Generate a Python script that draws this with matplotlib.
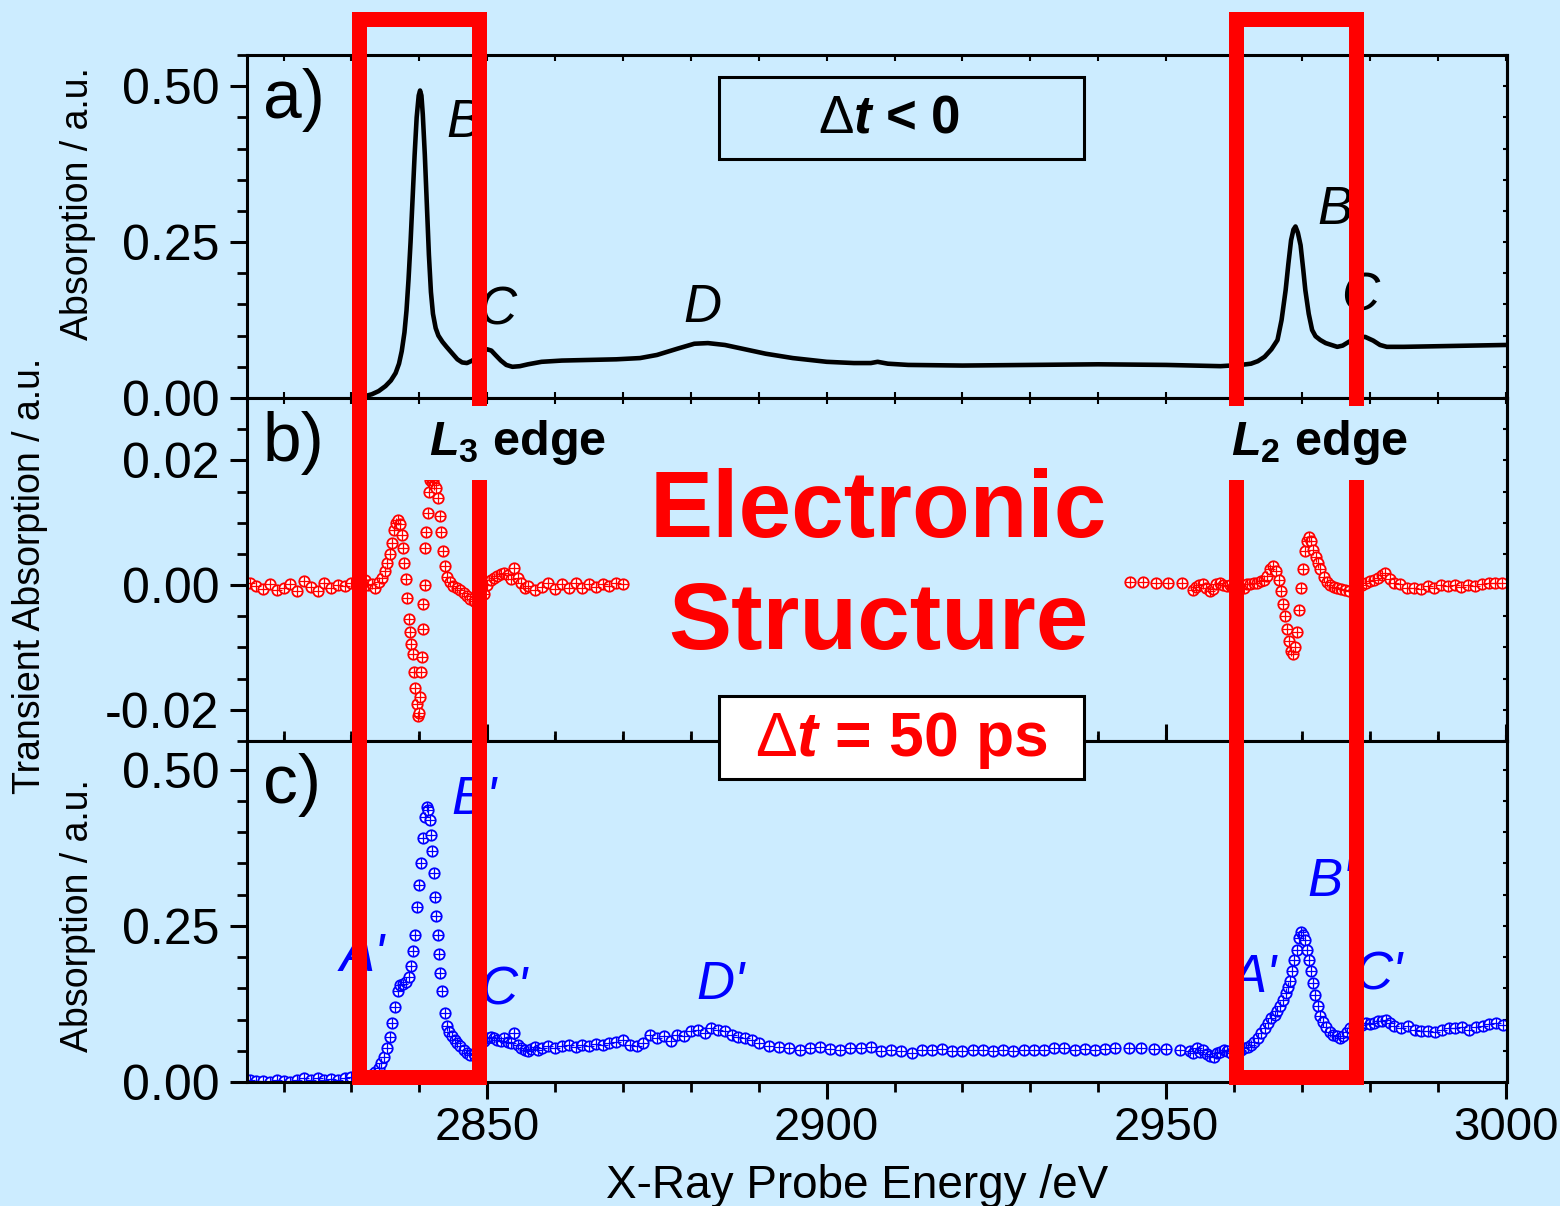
import matplotlib
matplotlib.use("Agg")
import matplotlib.pyplot as plt
from matplotlib.patches import Rectangle
from matplotlib.ticker import MultipleLocator
from matplotlib.transforms import blended_transform_factory

plt.rcParams['font.family'] = ['Liberation Sans', 'DejaVu Sans']
plt.rcParams['axes.unicode_minus'] = False
plt.rcParams['mathtext.fontset'] = 'custom'
plt.rcParams['mathtext.rm'] = 'Liberation Sans'
plt.rcParams['mathtext.it'] = 'Liberation Sans:italic:bold'
plt.rcParams['mathtext.bf'] = 'Liberation Sans:bold'

BG = '#CCECFF'

# a) ground state spectrum (dt < 0)
gs_energy = [2832.0, 2833.0, 2834.0, 2835.0, 2835.8, 2836.5, 2837.0, 2837.4, 2837.8, 2838.1,
             2838.4, 2838.7, 2839.0, 2839.3, 2839.6, 2839.9, 2840.1, 2840.3, 2840.5, 2840.8,
             2841.1, 2841.4, 2841.7, 2842.0, 2842.4, 2842.8, 2843.4, 2844.0, 2844.8, 2845.6,
             2846.3, 2847.0, 2847.8, 2848.5, 2849.3, 2850.0, 2850.6, 2851.2, 2852.0, 2852.8,
             2853.7, 2854.8, 2856.0, 2858.0, 2861.0, 2865.0, 2869.0, 2872.5, 2875.0, 2878.0,
             2880.5, 2882.5, 2885.0, 2888.0, 2891.0, 2895.0, 2900.0, 2904.0, 2906.5, 2907.5,
             2909.0, 2912.0, 2920.0, 2930.0, 2940.0, 2950.0, 2958.0, 2961.0, 2962.5, 2963.5,
             2964.5, 2965.5, 2966.4, 2967.0, 2967.6, 2968.0, 2968.4, 2968.75, 2969.05, 2969.4,
             2969.8, 2970.2, 2970.5, 2971.0, 2971.5, 2972.0, 2972.7, 2973.5, 2975.2, 2976.0,
             2976.9, 2978.0, 2979.3, 2980.5, 2981.5, 2982.5, 2985.0, 2990.0, 3000.0]
gs_abs = [0.003, 0.006, 0.011, 0.019, 0.028, 0.040, 0.055, 0.075, 0.105, 0.140,
          0.190, 0.250, 0.320, 0.390, 0.450, 0.485, 0.493, 0.485, 0.455, 0.390,
          0.310, 0.230, 0.170, 0.135, 0.112, 0.100, 0.090, 0.082, 0.072, 0.062,
          0.057, 0.056, 0.060, 0.066, 0.074, 0.078, 0.076, 0.069, 0.060, 0.053,
          0.050, 0.051, 0.054, 0.058, 0.060, 0.061, 0.062, 0.064, 0.069, 0.079,
          0.087, 0.088, 0.085, 0.078, 0.071, 0.064, 0.058, 0.056, 0.056, 0.058,
          0.055, 0.053, 0.052, 0.053, 0.054, 0.053, 0.051, 0.053, 0.055, 0.059,
          0.066, 0.078, 0.093, 0.125, 0.173, 0.215, 0.253, 0.270, 0.275, 0.265,
          0.245, 0.205, 0.173, 0.135, 0.109, 0.099, 0.093, 0.088, 0.082, 0.084,
          0.090, 0.096, 0.098, 0.092, 0.085, 0.082, 0.082, 0.083, 0.085]

# b) transient (50 ps minus ground state), L3 part
l3_energy = [2815.0, 2816.0, 2817.0, 2818.0, 2819.0, 2820.0, 2821.0, 2822.0, 2823.0, 2824.0,
             2825.0, 2826.0, 2827.0, 2828.0, 2829.0, 2830.0, 2831.0, 2832.0, 2832.5, 2833.0,
             2833.5, 2834.0, 2834.5, 2835.0, 2835.3, 2835.6, 2835.9, 2836.2, 2836.5, 2836.8,
             2837.1, 2837.4, 2837.6, 2837.8, 2838.0, 2838.2, 2838.4, 2838.6, 2838.8, 2839.0,
             2839.2, 2839.4, 2839.6, 2839.8, 2839.9, 2840.1, 2840.3, 2840.4, 2840.5, 2840.6,
             2840.8, 2840.9, 2841.0, 2841.2, 2841.4, 2841.6, 2841.8, 2842.0, 2842.2, 2842.5,
             2842.8, 2843.0, 2843.2, 2843.5, 2843.8, 2844.1, 2844.5, 2845.0, 2845.5, 2846.0,
             2846.5, 2847.0, 2847.5, 2848.0, 2848.5, 2849.0, 2849.5, 2850.0, 2850.5, 2851.0,
             2851.5, 2852.0, 2852.5, 2853.0, 2853.5, 2854.0, 2854.5, 2855.0, 2855.5, 2856.0,
             2857.0, 2858.0, 2859.0, 2860.0, 2861.0, 2862.0, 2863.0, 2864.0, 2865.0, 2866.0,
             2867.0, 2868.0, 2869.0, 2870.0]
l3_diff = [0.0003, -0.0002, -0.0006, 0.0001, -0.0008, -0.0004, 0.0002, -0.0009, 0.0006, -0.0003,
           -0.0010, 0.0004, -0.0005, 0.0000, -0.0002, 0.0003, -0.0004, 0.0008, 0.0000, 0.0002,
           -0.0004, 0.0005, 0.0012, 0.0022, 0.0035, 0.0050, 0.0068, 0.0088, 0.0100, 0.0105,
           0.0098, 0.0080, 0.0060, 0.0035, 0.0010, -0.0020, -0.0055, -0.0075, -0.0095, -0.0110,
           -0.0140, -0.0165, -0.0190, -0.0210, -0.0205, -0.0180, -0.0140, -0.0115, -0.0070, -0.0030,
           0.0000, 0.0060, 0.0085, 0.0115, 0.0150, 0.0168, 0.0165, 0.0168, 0.0160, 0.0155,
           0.0140, 0.0110, 0.0085, 0.0055, 0.0030, 0.0013, 0.0005, -0.0002, -0.0004, -0.0008,
           -0.0012, -0.0018, -0.0022, -0.0026, -0.0030, -0.0028, -0.0015, 0.0000, 0.0008, 0.0012,
           0.0015, 0.0018, 0.0020, 0.0016, 0.0010, 0.0028, 0.0012, 0.0003, -0.0005, -0.0002,
           -0.0008, -0.0003, 0.0004, -0.0006, 0.0002, -0.0004, 0.0003, -0.0005, 0.0001, -0.0003,
           0.0002, -0.0001, 0.0004, 0.0002]

# b) L2 part
l2_energy = [2944.7, 2946.6, 2948.5, 2950.3, 2952.4, 2953.9, 2954.4, 2954.9, 2955.4, 2955.9,
             2956.4, 2956.9, 2957.4, 2957.9, 2958.4, 2958.9, 2959.4, 2959.9, 2960.4, 2960.9,
             2961.4, 2961.9, 2962.4, 2962.9, 2963.4, 2963.9, 2964.4, 2964.9, 2965.3, 2965.8,
             2966.2, 2966.6, 2966.9, 2967.2, 2967.5, 2967.8, 2968.1, 2968.4, 2968.7, 2969.0,
             2969.3, 2969.6, 2969.9, 2970.1, 2970.4, 2970.7, 2971.0, 2971.3, 2971.7, 2972.0,
             2972.3, 2972.7, 2973.2, 2973.7, 2974.2, 2974.7, 2975.2, 2975.8, 2976.4, 2977.0,
             2977.6, 2978.2, 2978.8, 2979.4, 2980.0, 2980.6, 2981.2, 2981.8, 2982.3, 2983.0,
             2983.5, 2984.5, 2985.5, 2986.5, 2987.5, 2988.5, 2989.5, 2990.5, 2991.5, 2992.5,
             2993.5, 2994.5, 2995.5, 2996.5, 2997.5, 2998.5, 2999.5]
l2_diff = [0.0005, 0.0005, 0.0004, 0.0004, 0.0003, -0.0008, -0.0003, 0.0000, 0.0002, -0.0004,
           -0.0010, -0.0006, 0.0002, 0.0004, 0.0000, -0.0002, 0.0000, -0.0003, -0.0001, 0.0000,
           -0.0004, 0.0002, 0.0001, 0.0004, 0.0003, 0.0006, 0.0008, 0.0015, 0.0025, 0.0030,
           0.0022, 0.0008, -0.0010, -0.0030, -0.0050, -0.0070, -0.0090, -0.0105, -0.0110, -0.0100,
           -0.0075, -0.0040, -0.0005, 0.0025, 0.0055, 0.0070, 0.0077, 0.0070, 0.0056, 0.0045,
           0.0035, 0.0025, 0.0013, 0.0005, 0.0000, -0.0003, -0.0005, -0.0007, -0.0008, -0.0010,
           -0.0008, -0.0004, 0.0000, 0.0003, 0.0006, 0.0008, 0.0012, 0.0016, 0.0019, 0.0010,
           0.0003, 0.0002, -0.0004, -0.0005, -0.0006, -0.0002, -0.0004, 0.0000, -0.0002, 0.0000,
           -0.0003, 0.0000, -0.0002, 0.0002, 0.0004, 0.0003, 0.0004]

# c) excited state spectrum at 50 ps
es_energy = [2815.0, 2816.0, 2817.0, 2818.0, 2819.0, 2820.0, 2821.0, 2822.0, 2823.0, 2824.0,
             2825.0, 2826.0, 2827.0, 2828.0, 2829.0, 2830.0, 2830.8, 2831.5, 2832.2, 2832.8,
             2833.4, 2834.0, 2834.4, 2834.8, 2835.2, 2835.6, 2836.0, 2836.4, 2836.8, 2837.2,
             2837.6, 2838.0, 2838.4, 2838.8, 2839.1, 2839.4, 2839.7, 2840.0, 2840.3, 2840.6,
             2840.9, 2841.1, 2841.3, 2841.5, 2841.7, 2841.9, 2842.1, 2842.3, 2842.5, 2842.7,
             2842.9, 2843.1, 2843.4, 2843.7, 2844.0, 2844.4, 2844.8, 2845.2, 2845.6, 2846.0,
             2846.5, 2847.0, 2847.5, 2848.0, 2848.5, 2849.0, 2849.5, 2850.0, 2850.5, 2851.0,
             2851.5, 2852.0, 2852.5, 2853.0, 2853.5, 2854.0, 2854.5, 2855.0, 2855.5, 2856.0,
             2856.5, 2857.0, 2857.5, 2858.0, 2859.0, 2860.0, 2861.0, 2862.0, 2863.0, 2864.0,
             2865.0, 2866.0, 2867.0, 2868.0, 2869.0, 2870.0, 2871.0, 2872.0, 2873.0, 2874.0,
             2875.0, 2876.0, 2877.0, 2878.0, 2879.0, 2880.0, 2881.0, 2882.0, 2883.0, 2884.0,
             2885.0, 2886.0, 2887.0, 2888.0, 2889.0, 2890.0, 2891.5, 2893.0, 2894.5, 2896.0,
             2897.5, 2899.0, 2900.5, 2902.0, 2903.5, 2905.0, 2906.5, 2908.0, 2909.5, 2911.0,
             2912.5, 2914.0, 2915.5, 2917.0, 2918.5, 2920.0, 2921.5, 2923.0, 2924.5, 2926.0,
             2927.5, 2929.0, 2930.5, 2932.0, 2933.5, 2935.0, 2936.5, 2938.0, 2939.5, 2941.0,
             2942.5, 2944.5, 2946.3, 2948.2, 2950.0, 2952.0, 2953.5, 2954.0, 2954.5, 2955.0,
             2955.5, 2956.0, 2956.5, 2957.0, 2957.5, 2958.0, 2958.5, 2959.0, 2959.5, 2960.0,
             2960.5, 2961.0, 2961.5, 2962.0, 2962.5, 2963.0, 2963.5, 2964.0, 2964.5, 2965.0,
             2965.5, 2966.0, 2966.4, 2966.8, 2967.2, 2967.6, 2968.0, 2968.3, 2968.6, 2968.9,
             2969.2, 2969.5, 2969.8, 2970.1, 2970.4, 2970.7, 2971.0, 2971.3, 2971.6, 2971.9,
             2972.3, 2972.7, 2973.1, 2973.6, 2974.1, 2974.6, 2975.1, 2975.6, 2976.1, 2976.6,
             2977.1, 2977.6, 2978.2, 2978.8, 2979.4, 2980.0, 2980.6, 2981.2, 2981.8, 2982.4,
             2983.0, 2983.6, 2984.6, 2985.6, 2986.6, 2987.6, 2988.6, 2989.6, 2990.6, 2991.6,
             2992.6, 2993.6, 2994.6, 2995.6, 2996.6, 2997.6, 2998.6, 2999.6]
es_abs = [0.003, 0.001, 0.002, 0.000, 0.003, 0.002, 0.000, 0.004, 0.006, 0.004,
          0.006, 0.003, 0.005, 0.004, 0.006, 0.008, 0.010, 0.007, 0.009, 0.012,
          0.016, 0.022, 0.030, 0.040, 0.054, 0.072, 0.095, 0.120, 0.145, 0.155,
          0.157, 0.160, 0.168, 0.185, 0.210, 0.235, 0.280, 0.315, 0.350, 0.390,
          0.425, 0.440, 0.435, 0.420, 0.395, 0.370, 0.335, 0.296, 0.265, 0.235,
          0.205, 0.175, 0.145, 0.110, 0.090, 0.080, 0.074, 0.068, 0.062, 0.057,
          0.052, 0.047, 0.043, 0.045, 0.052, 0.060, 0.066, 0.070, 0.072, 0.071,
          0.068, 0.066, 0.070, 0.064, 0.062, 0.078, 0.060, 0.055, 0.052, 0.049,
          0.053, 0.056, 0.052, 0.055, 0.058, 0.054, 0.057, 0.059, 0.056, 0.060,
          0.058, 0.061, 0.059, 0.062, 0.064, 0.067, 0.060, 0.058, 0.062, 0.075,
          0.070, 0.073, 0.066, 0.076, 0.074, 0.082, 0.084, 0.078, 0.086, 0.084,
          0.082, 0.076, 0.072, 0.070, 0.068, 0.062, 0.058, 0.056, 0.055, 0.052,
          0.055, 0.056, 0.053, 0.052, 0.055, 0.054, 0.056, 0.050, 0.052, 0.050,
          0.046, 0.051, 0.052, 0.053, 0.050, 0.050, 0.051, 0.051, 0.050, 0.051,
          0.050, 0.051, 0.052, 0.051, 0.054, 0.055, 0.052, 0.053, 0.051, 0.053,
          0.054, 0.054, 0.054, 0.053, 0.053, 0.052, 0.050, 0.046, 0.054, 0.048,
          0.052, 0.045, 0.042, 0.040, 0.046, 0.048, 0.052, 0.050, 0.047, 0.049,
          0.050, 0.052, 0.054, 0.056, 0.060, 0.064, 0.070, 0.078, 0.086, 0.095,
          0.102, 0.108, 0.114, 0.122, 0.132, 0.143, 0.152, 0.162, 0.178, 0.195,
          0.212, 0.230, 0.240, 0.236, 0.228, 0.212, 0.195, 0.178, 0.158, 0.140,
          0.122, 0.106, 0.096, 0.088, 0.080, 0.076, 0.073, 0.071, 0.074, 0.080,
          0.086, 0.089, 0.090, 0.092, 0.094, 0.093, 0.095, 0.097, 0.098, 0.100,
          0.094, 0.090, 0.087, 0.089, 0.083, 0.081, 0.082, 0.080, 0.083, 0.086,
          0.087, 0.088, 0.084, 0.088, 0.090, 0.093, 0.094, 0.092]

# highlighted energy windows (L3 and L2 edges)
windows = [(2831.1, 2848.75), (2960.3, 2978.0)]

fig = plt.figure(figsize=(15.6, 12.06), dpi=100, facecolor=BG)
L, W = 0.1583, 0.8077
axa = fig.add_axes([L, 0.6700, W, 0.2844])
axb = fig.add_axes([L, 0.3856, W, 0.2844])
axc = fig.add_axes([L, 0.1028, W, 0.2828])

for ax in (axa, axb, axc):
    ax.set_facecolor(BG)
    ax.set_xlim(2814.6, 3000.2)
    ax.xaxis.set_major_locator(MultipleLocator(50))
    ax.xaxis.set_minor_locator(MultipleLocator(10))
    for s in ax.spines.values():
        s.set_linewidth(2.2)
    ax.tick_params(axis='y', which='major', direction='out', length=12, width=2.2,
                   labelsize=36, pad=8)
    ax.tick_params(axis='y', which='minor', direction='out', length=7, width=2.0)
    ax.tick_params(axis='x', which='both', direction='in', length=4, width=1.5, top=True)

axa.tick_params(axis='x', labelbottom=False)
axb.tick_params(axis='x', labelbottom=False)
axc.tick_params(axis='x', which='major', direction='out', length=12, width=2.2,
                labelsize=34, pad=5)
axc.tick_params(axis='x', which='minor', direction='out', length=7, width=2.0)

# panel a
axa.plot(gs_energy, gs_abs, color='black', lw=3.3, solid_joinstyle='round')
axa.set_ylim(0, 0.55)
axa.yaxis.set_major_locator(MultipleLocator(0.25))
axa.yaxis.set_minor_locator(MultipleLocator(0.05))
axa.yaxis.set_major_formatter('{x:.2f}')

# panel b
for e, d in ((l3_energy, l3_diff), (l2_energy, l2_diff)):
    axb.plot(e, d, ls='none', marker='o', ms=7.5, mfc='white', mec='red', mew=1.3)
    axb.plot(e, d, ls='none', marker='+', ms=6.5, mec='red', mew=0.9)
axb.set_ylim(-0.025, 0.03)
axb.yaxis.set_major_locator(MultipleLocator(0.02))
axb.yaxis.set_minor_locator(MultipleLocator(0.005))
axb.yaxis.set_major_formatter('{x:.2f}')

# panel c
axc.plot(es_energy, es_abs, ls='none', marker='o', ms=7.5, mfc='white', mec='blue', mew=1.3)
axc.plot(es_energy, es_abs, ls='none', marker='+', ms=6.5, mec='blue', mew=0.9)
axc.set_ylim(0, 0.546)
axc.yaxis.set_major_locator(MultipleLocator(0.25))
axc.yaxis.set_minor_locator(MultipleLocator(0.05))
axc.yaxis.set_major_formatter('{x:.2f}')

# tiny inward ticks on the right spine
for ax in (axa, axb, axc):
    sec = ax.secondary_yaxis('right')
    sec.yaxis.set_major_locator(ax.yaxis.get_major_locator())
    sec.yaxis.set_minor_locator(ax.yaxis.get_minor_locator())
    sec.tick_params(which='both', direction='in', length=3, width=1.5, labelright=False)
    sec.spines['right'].set_linewidth(2.2)

# panel labels and peak letters
for ax, lab, yv in ((axa, 'a)', 0.478), (axb, 'b)', 0.0228), (axc, 'c)', 0.476)):
    ax.text(2816.9, yv, lab, fontsize=50, ha='left', va='center')

it = dict(fontsize=38, style='italic', ha='center', va='center')
axa.text(2846.5, 0.441, 'B', **it)
axa.text(2851.5, 0.141, 'C', **it)
axa.text(2881.7, 0.144, 'D', **it)
axa.text(2974.9, 0.301, 'B', **it)
axa.text(2978.6, 0.162, 'C', **it)
axc.text(2831.6, 0.200, "A'", color='blue', **it)
axc.text(2848.0, 0.452, "B'", color='blue', **it)
axc.text(2852.4, 0.147, "C'", color='blue', **it)
axc.text(2884.3, 0.155, "D'", color='blue', **it)
axc.text(2963.0, 0.167, "A'", color='blue', **it)
axc.text(2974.2, 0.320, "B'", color='blue', **it)
axc.text(2981.3, 0.171, "C'", color='blue', **it)

axb.text(2907.6, 0.0117, 'Electronic', color='red', fontsize=68, fontweight='bold',
         ha='center', va='center')
axb.text(2907.6, -0.0064, 'Structure', color='red', fontsize=68, fontweight='bold',
         ha='center', va='center')

# dt < 0 box
axa.add_patch(Rectangle((0.3746, 0.697), 0.2897, 0.239, transform=axa.transAxes,
                        fill=False, ec='black', lw=2.2))
axa.text(0.510, 0.816, r'$\Delta\mathit{t}$ < 0', transform=axa.transAxes, fontsize=38,
         fontweight='bold', ha='center', va='center')

# highlight rectangles on top of the panels
trans = blended_transform_factory(axc.transData, fig.transFigure)
for x0, x1 in windows:
    fig.add_artist(Rectangle((x0, 0.1070), x1 - x0, 0.9842 - 0.1070, transform=trans,
                             fill=False, ec='red', lw=10.8, joinstyle='miter', zorder=4))

# edge labels sit above the rectangles
box = dict(boxstyle='square,pad=0.25', fc=BG, ec='none')
fig.text(2854.4, 0.0228, r'$\mathit{L}_\mathbf{3}$ edge', transform=axb.transData,
         fontsize=35, fontweight='bold', ha='center', va='center', bbox=box, zorder=6)
fig.text(2972.6, 0.0228, r'$\mathit{L}_\mathbf{2}$ edge', transform=axb.transData,
         fontsize=35, fontweight='bold', ha='center', va='center', bbox=box, zorder=6)

# dt = 50 ps box across panels b and c
fig.add_artist(Rectangle((0.4609, 0.3541), 0.234, 0.0688, transform=fig.transFigure,
                         fc='white', ec='black', lw=2.2, zorder=6))
fig.text(0.5776, 0.3864, r'$\Delta\mathit{t}$ = 50 ps', color='red', fontsize=45,
         fontweight='bold', ha='center', va='center', zorder=7)

# axis titles
fig.text(78 / 1560, 0.8308, 'Absorption / a.u.', rotation=90, fontsize=27,
         ha='center', va='center')
fig.text(30 / 1560, 1 - 576 / 1206, 'Transient Absorption / a.u.', rotation=90,
         fontsize=27, ha='center', va='center')
fig.text(78 / 1560, 0.2405, 'Absorption / a.u.', rotation=90, fontsize=27,
         ha='center', va='center')
fig.text(857 / 1560, 0.0166, 'X-Ray Probe Energy /eV', fontsize=33, ha='center', va='center')

fig.savefig('out.png', dpi=100, facecolor=BG)
